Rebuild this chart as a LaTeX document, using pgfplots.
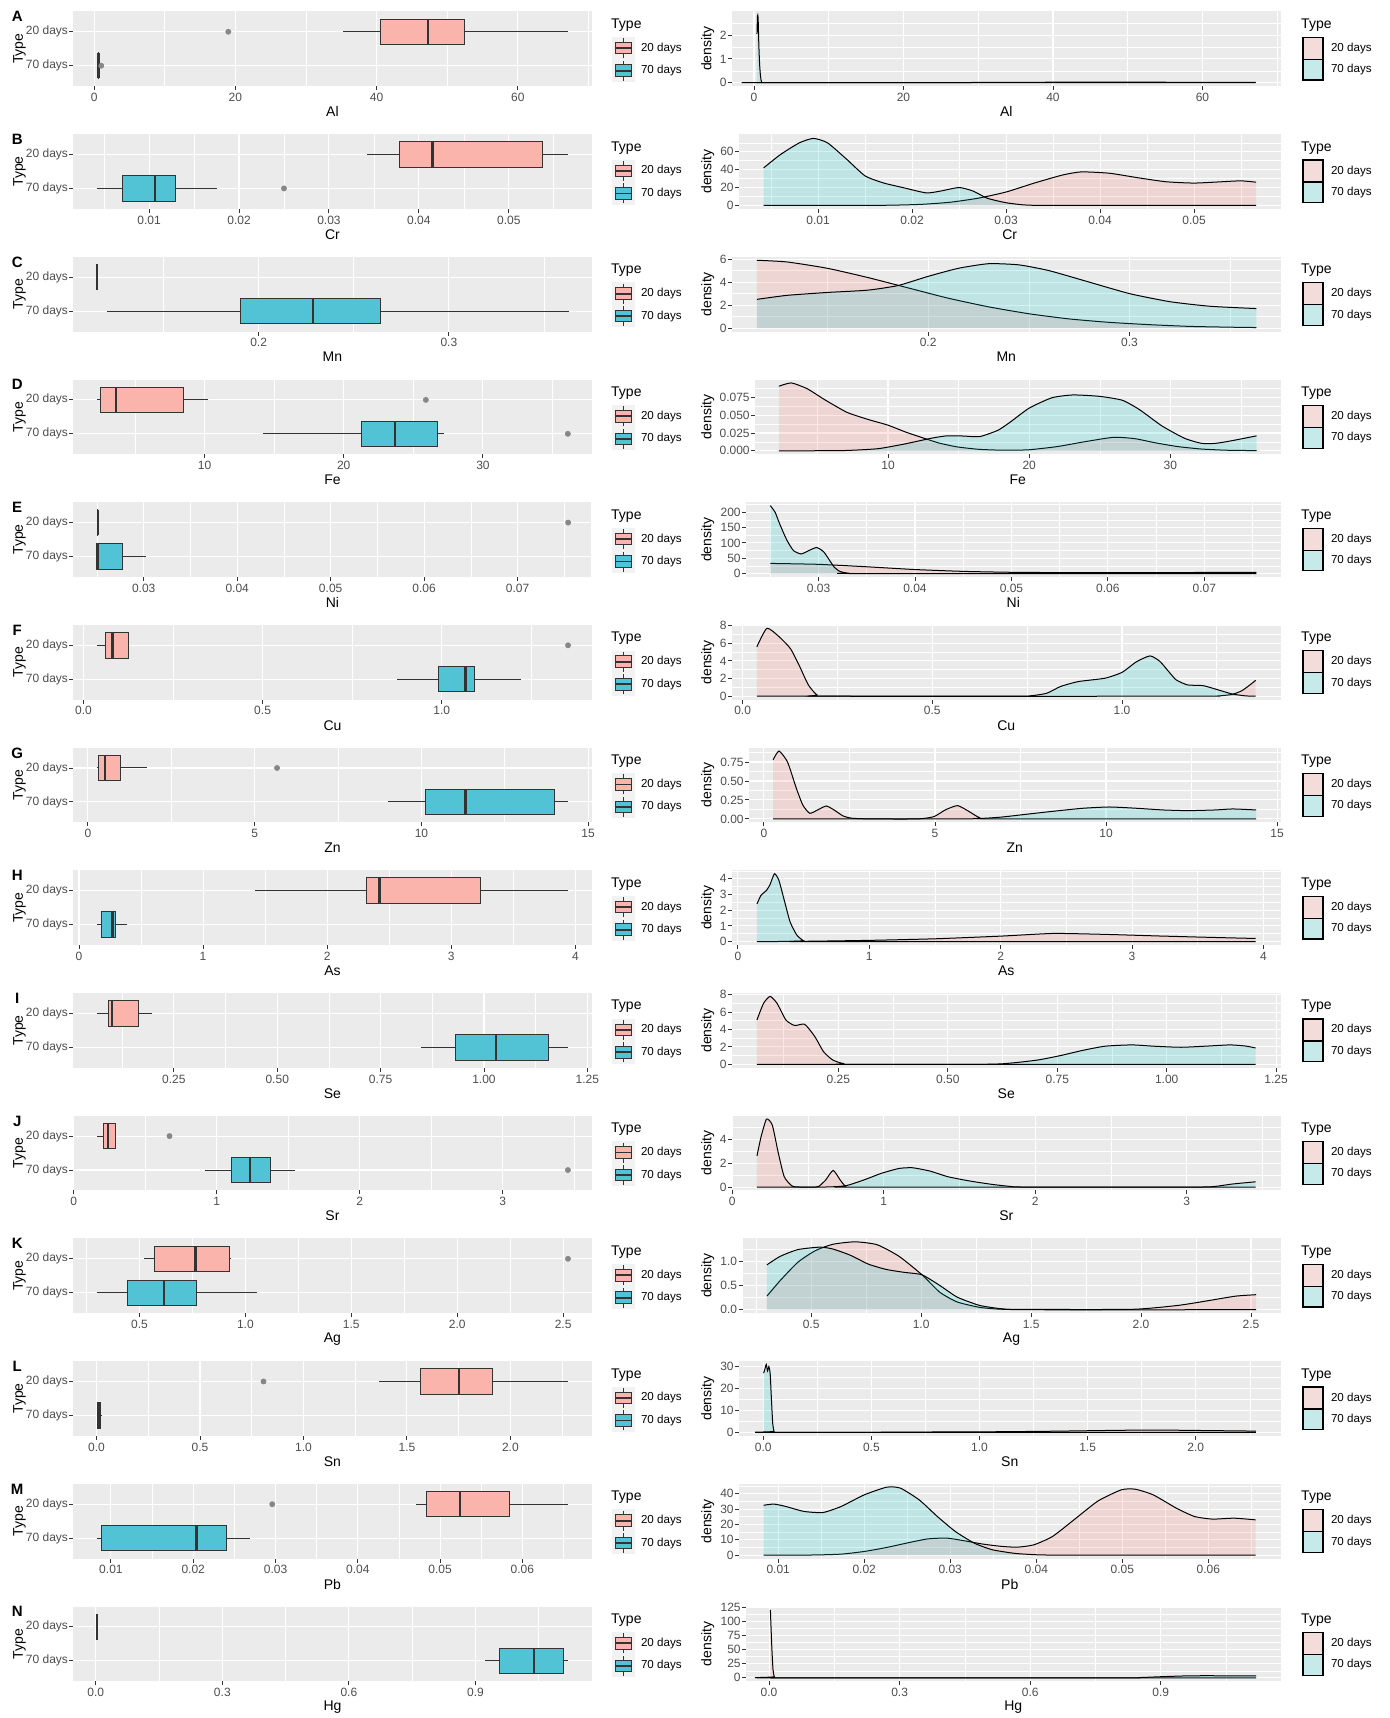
\documentclass[border=0pt]{standalone}
\usepackage{pgfplots}
\pgfplotsset{compat=1.18}
\usepgfplotslibrary{statistics}
\usepackage{fontspec}
\setmainfont{Liberation Sans}
\definecolor{ggbg}{HTML}{EBEBEB}
\definecolor{ggdark}{HTML}{333333}
\definecolor{ggtick}{HTML}{4D4D4D}
\definecolor{boxA}{RGB}{250,180,172}
\definecolor{boxB}{RGB}{82,195,212}
\definecolor{dA}{HTML}{F8766D}
\definecolor{dB}{HTML}{00BFC4}
\definecolor{ggout}{RGB}{135,135,135}
\definecolor{keybg}{HTML}{F2F2F2}
\newcommand{\tickfont}{\fontsize{6}{7}\selectfont}
\newcommand{\legfont}{\fontsize{5.8}{7}\selectfont}
\newcommand{\titlefont}{\fontsize{7}{8}\selectfont}
\pgfplotsset{
  gg/.style={scale only axis, anchor=north west, height=37.35pt,
    scaled x ticks=false, scaled y ticks=false,
    axis background/.style={fill=ggbg}, axis line style={draw=none},
    tick align=outside, xtick pos=left, ytick pos=left,
    major tick length=2pt, minor tick length=0pt,
    tick style={ggdark, line width=0.45pt},
    ticklabel style={font=\tickfont, text=ggtick},
    xticklabel style={anchor=north, inner sep=0pt, yshift=-1.3pt},
    yticklabel style={anchor=east, inner sep=0pt, xshift=-0.5pt},
    major grid style={white, line width=0.55pt},
    minor grid style={white, line width=0.3pt},
    xlabel style={at={(axis description cs:0.5,0)}, anchor=center, yshift=-12.8pt, font=\titlefont},
    xmajorgrids, xminorgrids, ymajorgrids},
  boxax/.style={gg, width=259.05pt, ymin=0.4, ymax=2.6, ytick={1,2}, yticklabels={70 days,20 days}},
  densax/.style={gg, yminorgrids},
  xA/.style={xmin=-2.94, xmax=70.44, xtick={0,20,40,60}, xticklabels={0,20,40,60}, minor xtick={10,30,50,70}, xlabel={Al}},
  xB/.style={xmin=0.00158, xmax=0.0592, xtick={0.01,0.02,0.03,0.04,0.05}, xticklabels={0.01,0.02,0.03,0.04,0.05}, minor xtick={0.005,0.015,0.025,0.035,0.045,0.055}, xlabel={Cr}},
  xC/.style={xmin=0.1026, xmax=0.375, xtick={0.2,0.3}, xticklabels={0.2,0.3}, minor xtick={0.15,0.25,0.35}, xlabel={Mn}},
  xD/.style={xmin=0.58, xmax=37.8, xtick={10,20,30}, xticklabels={10,20,30}, minor xtick={5,15,25,35}, xlabel={Fe}},
  xE/.style={xmin=0.02248, xmax=0.0779, xtick={0.03,0.04,0.05,0.06,0.07}, xticklabels={0.03,0.04,0.05,0.06,0.07}, minor xtick={0.025,0.035,0.045,0.055,0.065,0.075}, xlabel={Ni}},
  xF/.style={xmin=-0.028, xmax=1.418, xtick={0,0.5,1}, xticklabels={0.0,0.5,1.0}, minor xtick={0.25,0.75,1.25}, xlabel={Cu}},
  xG/.style={xmin=-0.436, xmax=15.1, xtick={0,5,10,15}, xticklabels={0,5,10,15}, minor xtick={2.5,7.5,12.5}, xlabel={Zn}},
  xH/.style={xmin=-0.045, xmax=4.13, xtick={0,1,2,3,4}, xticklabels={0,1,2,3,4}, minor xtick={0.5,1.5,2.5,3.5}, xlabel={As}},
  xI/.style={xmin=0.007, xmax=1.26, xtick={0.25,0.5,0.75,1,1.25}, xticklabels={0.25,0.50,0.75,1.00,1.25}, minor xtick={0.125,0.375,0.625,0.875,1.125}, xlabel={Se}},
  xJ/.style={xmin=-0.002, xmax=3.62, xtick={0,1,2,3}, xticklabels={0,1,2,3}, minor xtick={0.5,1.5,2.5,3.5}, xlabel={Sr}},
  xK/.style={xmin=0.188, xmax=2.634, xtick={0.5,1,1.5,2,2.5}, xticklabels={0.5,1.0,1.5,2.0,2.5}, minor xtick={0.25,0.75,1.25,1.75,2.25}, xlabel={Ag}},
  xL/.style={xmin=-0.112, xmax=2.392, xtick={0,0.5,1,1.5,2}, xticklabels={0.0,0.5,1.0,1.5,2.0}, minor xtick={0.25,0.75,1.25,1.75,2.25}, xlabel={Sn}},
  xM/.style={xmin=0.00544, xmax=0.0684, xtick={0.01,0.02,0.03,0.04,0.05,0.06}, xticklabels={0.01,0.02,0.03,0.04,0.05,0.06}, minor xtick={0.015,0.025,0.035,0.045,0.055,0.065}, xlabel={Pb}},
  xN/.style={xmin=-0.053, xmax=1.175, xtick={0,0.3,0.6,0.9}, xticklabels={0.0,0.3,0.6,0.9}, minor xtick={0.15,0.45,0.75,1.05}, xlabel={Hg}},
}
% boxplot: position, fill, lw, q1, med, q3, uw, outliers
\newcommand{\bx}[8]{\addplot[boxplot prepared={draw position=#1, lower whisker=#3, lower quartile=#4, median=#5, upper quartile=#6, upper whisker=#7, box extend=0.75, whisker extend=0, every median/.style={line width=1.2pt}}, draw=ggdark, fill=#2, line width=0.5pt, solid, mark=*, mark size=1.2pt, mark options={draw=ggout, fill=ggout}] coordinates {#8};}
% density: colour, coordinates
\newcommand{\dn}[2]{\addplot[draw=none, fill=#1, fill opacity=0.18, smooth, tension=0.35] coordinates {#2} \closedcycle;
\addplot[black, line width=0.5pt, smooth, tension=0.35] coordinates {#2};}
\newcommand{\lgbox}[3]{%
 \draw[ggdark, line width=0.5pt] (311.75pt,-#2pt-#3pt-5pt) -- (311.75pt,-#2pt-#3pt+5pt);
 \draw[ggdark, line width=0.5pt, fill=#1] (307.6pt,-#2pt-#3pt-2.9pt) rectangle (315.9pt,-#2pt-#3pt+2.9pt);
 \draw[ggdark, line width=0.9pt] (307.6pt,-#2pt-#3pt) -- (315.9pt,-#2pt-#3pt);}
\newcommand{\decor}[2]{%
 \node[font=\bfseries\fontsize{7.5}{8}\selectfont, inner sep=0pt] at (8.6pt,-#2pt-2.65pt) {#1};
 \node[font=\titlefont, rotate=90, inner sep=0pt] at (9.8pt,-#2pt-18.7pt) {Type};
 \node[font=\titlefont, rotate=90, inner sep=0pt] at (353.9pt,-#2pt-18.7pt) {density};
 \node[font=\titlefont, anchor=west, inner sep=0pt] at (305.4pt,-#2pt-6.8pt) {Type};
 \fill[keybg] (306pt,-#2pt-12.8pt) rectangle (317.5pt,-#2pt-35.3pt);
 \lgbox{boxA}{#2}{18.4}
 \lgbox{boxB}{#2}{29.65}
 \node[font=\legfont, anchor=west, inner sep=0pt] at (320.3pt,-#2pt-18.4pt) {20 days};
 \node[font=\legfont, anchor=west, inner sep=0pt] at (320.3pt,-#2pt-29.65pt) {70 days};
 \node[font=\titlefont, anchor=west, inner sep=0pt] at (650.4pt,-#2pt-6.8pt) {Type};
 \draw[line width=0.6pt, fill=dA!18!keybg] (651.5pt,-#2pt-12.95pt) rectangle (661.5pt,-#2pt-23.95pt);
 \draw[line width=0.6pt, fill=dB!18!keybg] (651.5pt,-#2pt-23.95pt) rectangle (661.5pt,-#2pt-34.3pt);
 \node[font=\legfont, anchor=west, inner sep=0pt] at (665.3pt,-#2pt-18.45pt) {20 days};
 \node[font=\legfont, anchor=west, inner sep=0pt] at (665.3pt,-#2pt-29.1pt) {70 days};
}
\begin{document}
\begin{tikzpicture}
\path[use as bounding box] (0,0) rectangle (694.5pt,-859pt);
% ---------------- A: Al
\decor{A}{5.7}
\begin{axis}[boxax, xA, at={(36.7pt,-5.7pt)}]
\bx{2}{boxA}{35.3}{40.6}{47.3}{52.4}{67.1}{(0,19.0)}
\bx{1}{boxB}{0.4}{0.55}{0.6}{0.65}{0.7}{(0,1.0)}
\end{axis}
\begin{axis}[densax, xA, at={(366pt,-5.7pt)}, width=274.25pt, ymin=-0.143, ymax=3.0, ytick={0,1,2}, yticklabels={0,1,2}, minor ytick={0.5,1.5,2.5}]
\dn{dA}{(0.4,0) (10,0.002) (20,0.005) (30,0.009) (38,0.018) (45,0.024) (52,0.022) (60,0.014) (67.1,0.01)}
\dn{dB}{(0.4,2.05) (0.47,2.8) (0.55,2.75) (0.65,1.6) (0.75,0.8) (0.85,0.35) (0.95,0.1) (1.05,0.01) (1.2,0) (67.1,0)}
\end{axis}
% ---------------- B: Cr
\decor{B}{67.05}
\begin{axis}[boxax, xB, at={(36.7pt,-67.05pt)}]
\bx{2}{boxA}{0.0342}{0.0379}{0.0415}{0.0537}{0.0566}{}
\bx{1}{boxB}{0.0042}{0.0070}{0.01065}{0.0129}{0.0175}{(0,0.025)}
\end{axis}
\begin{axis}[densax, xB, at={(369.5pt,-67.05pt)}, width=270.75pt, ymin=-3.8, ymax=79.8, ytick={0,20,40,60}, yticklabels={0,20,40,60}, minor ytick={10,30,50,70}]
\dn{dA}{(0.0042,0) (0.015,0) (0.018,0.3) (0.021,1.2) (0.024,3.5) (0.027,8) (0.030,15) (0.033,25) (0.036,34) (0.038,37.5) (0.041,36) (0.044,31) (0.047,26.5) (0.050,25) (0.053,26.5) (0.055,27.5) (0.0566,26)}
\dn{dB}{(0.0042,42) (0.006,57) (0.008,70) (0.0095,75) (0.011,70) (0.013,52) (0.015,33) (0.017,25) (0.019,20) (0.0215,14) (0.023,16) (0.025,20) (0.0265,16) (0.028,8) (0.030,3) (0.032,0.5) (0.035,0) (0.0566,0)}
\end{axis}
% ---------------- C: Mn
\decor{C}{128.4}
\begin{axis}[boxax, xC, at={(36.7pt,-128.4pt)}]
\bx{2}{boxA}{0.1148}{0.1149}{0.115}{0.1151}{0.1152}{}
\bx{1}{boxB}{0.1203}{0.1907}{0.2285}{0.264}{0.363}{}
\end{axis}
\begin{axis}[densax, xC, at={(366pt,-128.4pt)}, width=274.25pt, ymin=-0.295, ymax=6.2, ytick={0,2,4,6}, yticklabels={0,2,4,6}, minor ytick={1,3,5}]
\dn{dA}{(0.115,5.9) (0.13,5.75) (0.15,5.2) (0.17,4.4) (0.19,3.5) (0.21,2.6) (0.23,1.85) (0.25,1.25) (0.27,0.8) (0.29,0.5) (0.31,0.3) (0.33,0.15) (0.35,0.08) (0.363,0.05)}
\dn{dB}{(0.115,2.5) (0.13,2.85) (0.15,3.1) (0.17,3.3) (0.185,3.7) (0.2,4.5) (0.215,5.2) (0.23,5.6) (0.245,5.5) (0.26,5.0) (0.28,4.0) (0.3,3.0) (0.32,2.3) (0.34,1.9) (0.363,1.7)}
\end{axis}
% ---------------- D: Fe
\decor{D}{189.75}
\begin{axis}[boxax, xD, at={(36.7pt,-189.75pt)}]
\bx{2}{boxA}{2.27}{2.53}{3.66}{8.52}{10.26}{(0,25.9)}
\bx{1}{boxB}{14.19}{21.3}{23.67}{26.7}{27.2}{(0,36.1)}
\end{axis}
\begin{axis}[densax, xD, at={(377.5pt,-189.75pt)}, width=262.75pt, ymin=-0.00477, ymax=0.1002, ytick={0,0.025,0.05,0.075}, yticklabels={0.000,0.025,0.050,0.075}, minor ytick={0.0125,0.0375,0.0625,0.0875}]
\dn{dA}{(2.27,0.0907) (3.15,0.0954) (4.3,0.087) (5.5,0.072) (7.1,0.054) (8.6,0.044) (10,0.036) (11.3,0.026) (12.5,0.018) (13.6,0.011) (14.9,0.0055) (16.5,0.002) (18.3,0.0008) (20,0.0015) (22,0.006) (24,0.013) (26,0.019) (27.5,0.017) (29,0.011) (30.5,0.006) (32.2,0.0025) (34,0.0008) (36.1,0.0003)}
\dn{dB}{(2.27,0) (5,0.0001) (7.1,0.0005) (9.3,0.003) (11.2,0.0097) (13.05,0.0176) (14.15,0.021) (15.3,0.0208) (16.5,0.02) (17.8,0.029) (18.7,0.041) (20,0.06) (21.6,0.0745) (23.1,0.0785) (25,0.0765) (26.6,0.071) (27.8,0.058) (29.4,0.035) (31,0.0176) (32.2,0.0105) (33.2,0.0105) (34.3,0.014) (36.1,0.021)}
\end{axis}
% ---------------- E: Ni
\decor{E}{251.1}
\begin{axis}[boxax, xE, at={(36.7pt,-251.1pt)}]
\bx{2}{boxA}{0.02508}{0.02509}{0.0251}{0.02511}{0.02512}{(0,0.0754)}
\bx{1}{boxB}{0.025}{0.025}{0.0251}{0.0277}{0.0302}{}
\end{axis}
\begin{axis}[densax, xE, at={(373pt,-251.1pt)}, width=267.25pt, ymin=-11.1, ymax=233.1, ytick={0,50,100,150,200}, yticklabels={0,50,100,150,200}, minor ytick={25,75,125,175,225}]
\dn{dA}{(0.025,33) (0.03,30) (0.035,22) (0.04,13) (0.045,7) (0.05,4) (0.055,3) (0.06,2.8) (0.065,3) (0.07,3.4) (0.0754,3.8)}
\dn{dB}{(0.025,222) (0.0255,200) (0.026,160) (0.0267,110) (0.0274,75) (0.0282,64) (0.029,75) (0.0298,85) (0.0305,72) (0.031,50) (0.0316,22) (0.0322,7) (0.033,1.5) (0.034,0) (0.0754,0)}
\end{axis}
% ---------------- F: Cu
\decor{F}{312.45}
\begin{axis}[boxax, xF, at={(36.7pt,-312.45pt)}]
\bx{2}{boxA}{0.0375}{0.0625}{0.081}{0.125}{0.1275}{(0,1.3525)}
\bx{1}{boxB}{0.875}{0.991}{1.066}{1.091}{1.22}{}
\end{axis}
\begin{axis}[densax, xF, at={(366pt,-312.45pt)}, width=274.25pt, ymin=-0.385, ymax=8.085, ytick={0,2,4,6,8}, yticklabels={0,2,4,6,8}, minor ytick={1,3,5,7}]
\dn{dA}{(0.0375,5.6) (0.064,7.7) (0.096,6.75) (0.126,5.4) (0.149,3.5) (0.173,1.3) (0.196,0.15) (0.226,0) (1.2,0) (1.25,0.02) (1.29,0.2) (1.315,0.6) (1.335,1.2) (1.3525,1.8)}
\dn{dB}{(0.0375,0) (0.7,0) (0.76,0.05) (0.802,0.34) (0.838,1.1) (0.885,1.66) (0.955,2.04) (1.0,2.7) (1.038,3.9) (1.074,4.57) (1.1,3.95) (1.125,2.7) (1.143,1.85) (1.173,1.28) (1.214,1.2) (1.255,0.7) (1.29,0.26) (1.325,0.04) (1.3525,0)}
\end{axis}
% ---------------- G: Zn
\decor{G}{373.8}
\begin{axis}[boxax, xG, at={(36.7pt,-373.8pt)}]
\bx{2}{boxA}{0.27}{0.31}{0.51}{0.98}{1.77}{(0,5.67)}
\bx{1}{boxB}{9.0}{10.11}{11.32}{13.99}{14.39}{}
\end{axis}
\begin{axis}[densax, xG, at={(374.5pt,-373.8pt)}, width=265.75pt, ymin=-0.045, ymax=0.94, ytick={0,0.25,0.5,0.75}, yticklabels={0.00,0.25,0.50,0.75}, minor ytick={0.125,0.375,0.625,0.875}]
\dn{dA}{(0.27,0.78) (0.44,0.895) (0.69,0.75) (0.95,0.40) (1.14,0.18) (1.34,0.074) (1.57,0.118) (1.82,0.17) (2.05,0.118) (2.31,0.04) (2.57,0.009) (3.1,0) (4.5,0) (4.97,0.03) (5.3,0.118) (5.66,0.175) (6.0,0.096) (6.3,0.017) (6.7,0) (14.39,0)}
\dn{dB}{(0.27,0) (5.7,0) (6.47,0.009) (6.99,0.026) (7.77,0.066) (8.55,0.105) (9.32,0.14) (10.1,0.157) (10.9,0.14) (11.66,0.118) (12.4,0.109) (13.2,0.118) (13.7,0.131) (14.39,0.118)}
\end{axis}
% ---------------- H: As
\decor{H}{435.15}
\begin{axis}[boxax, xH, at={(36.7pt,-435.15pt)}]
\bx{2}{boxA}{1.415}{2.32}{2.42}{3.236}{3.94}{}
\bx{1}{boxB}{0.145}{0.185}{0.27}{0.293}{0.387}{}
\end{axis}
\begin{axis}[densax, xH, at={(366pt,-435.15pt)}, width=274.25pt, ymin=-0.216, ymax=4.54, ytick={0,1,2,3,4}, yticklabels={0,1,2,3,4}, minor ytick={0.5,1.5,2.5,3.5,4.5}]
\dn{dA}{(0.145,0) (0.5,0.02) (1.0,0.08) (1.5,0.18) (2.0,0.35) (2.4,0.52) (2.8,0.46) (3.2,0.36) (3.6,0.27) (3.94,0.2)}
\dn{dB}{(0.145,2.4) (0.176,2.95) (0.217,3.26) (0.244,3.62) (0.278,4.32) (0.312,3.9) (0.356,2.53) (0.397,1.26) (0.448,0.42) (0.499,0.06) (0.55,0) (3.94,0)}
\end{axis}
% ---------------- I: Se
\decor{I}{496.5}
\begin{axis}[boxax, xI, at={(36.7pt,-496.5pt)}]
\bx{2}{boxA}{0.064}{0.092}{0.10}{0.165}{0.196}{}
\bx{1}{boxB}{0.847}{0.932}{1.029}{1.155}{1.203}{}
\end{axis}
\begin{axis}[densax, xI, at={(366pt,-496.5pt)}, width=274.25pt, ymin=-0.39, ymax=8.19, ytick={0,2,4,6,8}, yticklabels={0,2,4,6,8}, minor ytick={1,3,5,7}]
\dn{dA}{(0.064,5.1) (0.079,7.0) (0.094,7.8) (0.11,7.0) (0.13,5.1) (0.15,4.46) (0.173,4.6) (0.196,3.2) (0.216,1.46) (0.237,0.5) (0.262,0.08) (0.3,0) (1.203,0)}
\dn{dB}{(0.064,0) (0.573,0) (0.645,0.15) (0.706,0.5) (0.757,1.0) (0.808,1.6) (0.859,2.08) (0.92,2.23) (0.971,2.08) (1.033,1.96) (1.094,2.1) (1.145,2.23) (1.18,2.1) (1.203,1.88)}
\end{axis}
% ---------------- J: Sr
\decor{J}{557.85}
\begin{axis}[boxax, xJ, at={(36.7pt,-557.85pt)}]
\bx{2}{boxA}{0.163}{0.21}{0.238}{0.29}{0.295}{(0,0.67)}
\bx{1}{boxB}{0.915}{1.103}{1.232}{1.379}{1.55}{(0,3.455)}
\end{axis}
\begin{axis}[densax, xJ, at={(366pt,-557.85pt)}, width=274.25pt, ymin=-0.28, ymax=5.95, ytick={0,2,4}, yticklabels={0,2,4}, minor ytick={1,3,5}]
\dn{dA}{(0.163,2.6) (0.19,4.2) (0.226,5.67) (0.264,5.17) (0.302,2.94) (0.343,0.86) (0.396,0.08) (0.455,0) (0.55,0) (0.572,0.06) (0.616,0.58) (0.666,1.39) (0.713,0.58) (0.748,0.06) (0.8,0) (3.455,0)}
\dn{dB}{(0.163,0) (0.6,0) (0.748,0.11) (0.866,0.58) (0.983,1.14) (1.1,1.55) (1.19,1.61) (1.306,1.33) (1.424,0.86) (1.57,0.5) (1.717,0.22) (1.835,0.056) (1.95,0) (3.05,0) (3.185,0.05) (3.3,0.25) (3.455,0.44)}
\end{axis}
% ---------------- K: Ag
\decor{K}{619.2}
\begin{axis}[boxax, xK, at={(36.7pt,-619.2pt)}]
\bx{2}{boxA}{0.523}{0.57}{0.765}{0.926}{0.932}{(0,2.523)}
\bx{1}{boxB}{0.299}{0.443}{0.617}{0.767}{1.055}{}
\end{axis}
\begin{axis}[densax, xK, at={(371.25pt,-619.2pt)}, width=269pt, ymin=-0.07, ymax=1.47, ytick={0,0.5,1}, yticklabels={0.0,0.5,1.0}, minor ytick={0.25,0.75,1.25}]
\dn{dA}{(0.299,0.28) (0.359,0.6) (0.44,0.98) (0.52,1.22) (0.6,1.35) (0.7,1.4) (0.8,1.34) (0.9,1.1) (1.004,0.72) (1.085,0.36) (1.164,0.16) (1.265,0.05) (1.366,0.01) (1.6,0.005) (1.97,0.01) (2.17,0.09) (2.31,0.19) (2.43,0.28) (2.523,0.31)}
\dn{dB}{(0.299,0.925) (0.359,1.1) (0.44,1.24) (0.54,1.29) (0.6,1.25) (0.68,1.12) (0.76,0.94) (0.842,0.83) (0.924,0.77) (1.004,0.72) (1.085,0.5) (1.164,0.26) (1.265,0.09) (1.366,0.02) (1.487,0) (2.523,0)}
\end{axis}
% ---------------- L: Sn
\decor{L}{680.55}
\begin{axis}[boxax, xL, at={(36.7pt,-680.55pt)}]
\bx{2}{boxA}{1.365}{1.565}{1.752}{1.915}{2.278}{(0,0.807)}
\bx{1}{boxB}{0.002}{0.006}{0.012}{0.018}{0.025}{}
\end{axis}
\begin{axis}[densax, xL, at={(369.5pt,-680.55pt)}, width=270.75pt, ymin=-1.55, ymax=32.5, ytick={0,10,20,30}, yticklabels={0,10,20,30}, minor ytick={5,15,25}]
\dn{dA}{(0.002,0) (0.3,0.02) (0.55,0.08) (0.8,0.2) (1.0,0.25) (1.3,0.5) (1.6,0.9) (1.8,1.1) (2.0,0.9) (2.278,0.6)}
\dn{dB}{(0.002,27) (0.008,29) (0.014,31) (0.02,28) (0.026,30) (0.032,27) (0.038,15) (0.044,4) (0.05,0.5) (0.06,0) (2.278,0)}
\end{axis}
% ---------------- M: Pb
\decor{M}{741.9}
\begin{axis}[boxax, xM, at={(36.7pt,-741.9pt)}]
\bx{2}{boxA}{0.0471}{0.0484}{0.0524}{0.0584}{0.0655}{(0,0.0296)}
\bx{1}{boxB}{0.0083}{0.0089}{0.0204}{0.0241}{0.0269}{}
\end{axis}
\begin{axis}[densax, xM, at={(369.5pt,-741.9pt)}, width=270.75pt, ymin=-2.2, ymax=46.5, ytick={0,10,20,30,40}, yticklabels={0,10,20,30,40}, minor ytick={5,15,25,35,45}]
\dn{dA}{(0.0083,0) (0.014,0.1) (0.0173,0.65) (0.02,2.4) (0.0226,5) (0.0253,8.3) (0.0274,10.6) (0.0296,11.1) (0.0317,9.3) (0.0338,7.2) (0.036,5.7) (0.0378,5.2) (0.0397,6.7) (0.0419,12.2) (0.0446,24) (0.0472,35.4) (0.0499,42.6) (0.0515,43) (0.0536,39.3) (0.0563,30.6) (0.0584,25.2) (0.0605,23.5) (0.063,24.1) (0.0655,23)}
\dn{dB}{(0.0083,32.5) (0.0095,33.3) (0.0109,31.7) (0.013,28.5) (0.0152,27.8) (0.0173,31.7) (0.02,39.3) (0.0226,44.3) (0.0242,43.7) (0.0264,36) (0.0285,25.2) (0.0306,15.4) (0.0328,7.8) (0.0349,3.5) (0.0376,1.1) (0.0403,0.2) (0.044,0) (0.0655,0)}
\end{axis}
% ---------------- N: Hg
\decor{N}{803.25}
\begin{axis}[boxax, xN, at={(36.7pt,-803.25pt)}]
\bx{2}{boxA}{0.0028}{0.0029}{0.003}{0.0031}{0.0032}{}
\bx{1}{boxB}{0.922}{0.956}{1.039}{1.108}{1.119}{}
\end{axis}
\begin{axis}[densax, xN, at={(373pt,-803.25pt)}, width=267.25pt, ymin=-6, ymax=127, ytick={0,25,50,75,100,125}, yticklabels={0,25,50,75,100,125}, minor ytick={12.5,37.5,62.5,87.5,112.5}]
\dn{dA}{(0.003,121) (0.006,60) (0.009,15) (0.012,2) (0.016,0) (1.119,0)}
\dn{dB}{(0.003,0) (0.8,0) (0.85,0.5) (0.9,2) (0.95,3.3) (1.0,3.8) (1.05,3.6) (1.119,3.3)}
\end{axis}
\end{tikzpicture}
\end{document}
